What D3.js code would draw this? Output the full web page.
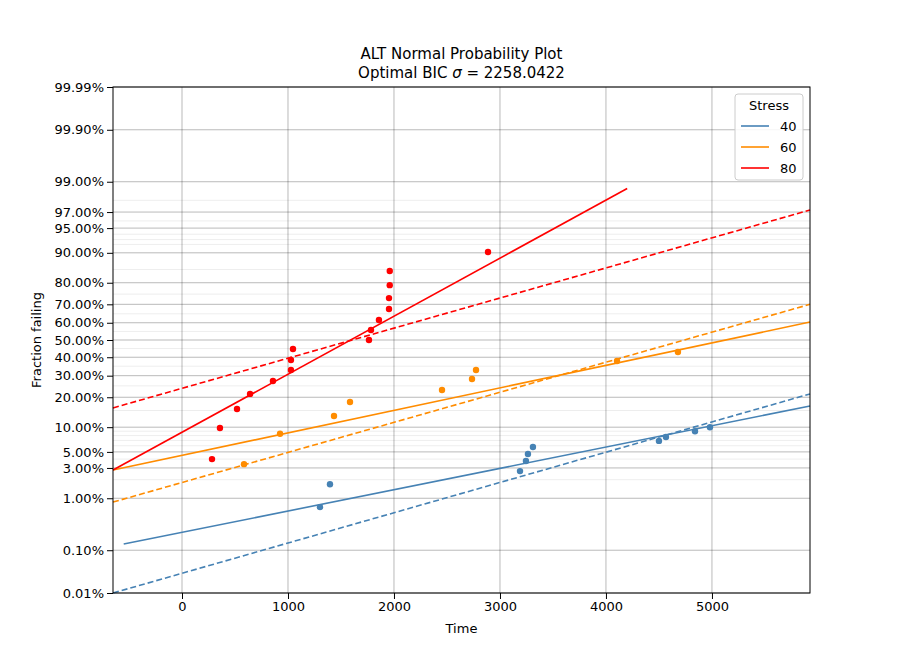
<!DOCTYPE html>
<html><head><meta charset="utf-8">
<script src="https://cdn.jsdelivr.net/npm/d3@7"></script>
<style>body{margin:0;background:#fff;font-family:"DejaVu Sans",sans-serif}</style>
</head><body><div id="main"></div>
<script>
var stresses = ["40", "60", "80"];
var colors = ["steelblue", "darkorange", "red"];
var blueT = [1302,1396,3189,3245,3264,3311,4500,4566,4840,4981];
var blueF = [0.007,0.017,0.027,0.0376,0.047,0.058,0.069,0.077,0.090,0.100];
var orangeT = [585,925,1434,1585,2453,2736,2774,4104,4679];
var orangeF = [0.034,0.084,0.132,0.181,0.231,0.283,0.330,0.379,0.430];
var redT = [283,358,519,642,858,1028,1028,1047,1764,1783,1858,1953,1953,1960,1960,2887];
var redF = [0.040,0.098,0.155,0.214,0.273,0.330,0.384,0.447,0.50,0.558,0.616,0.676,0.731,0.79,0.845,0.902];
// fitted lines: [t0, F0, t1, F1]
var solidLines = [[-550,0.00135,5925,0.166],[-651,0.028,5925,0.604],[-651,0.028,4200,0.987]];
var dashedLines = [[-651,0.0001,5925,0.214],[-651,0.0086,5925,0.70],[-651,0.159,5925,0.972]];
var yTicks = [0.0001,0.001,0.01,0.03,0.05,0.1,0.2,0.3,0.4,0.5,0.6,0.7,0.8,0.9,0.95,0.97,0.99,0.999,0.9999];
var yMinor = [0.02,0.04,0.06,0.07,0.08,0.09,0.15,0.25,0.35,0.45,0.55,0.65,0.75,0.85,0.92,0.93,0.94,0.96,0.98];
var xTicks = [0,1000,2000,3000,4000,5000];

var margin = {top: 87, left: 113, right: 90, bottom: 73};
var W = 900, H = 666, w = W-margin.left-margin.right, h = H-margin.top-margin.bottom;

// inverse normal CDF (Acklam)
function probit(p){
  var a=[-39.69683028665376,220.9460984245205,-275.9285104469687,138.357751867269,-30.66479806614716,2.506628277459239];
  var b=[-54.47609879822406,161.5858368580409,-155.6989798598866,66.80131188771972,-13.28068155288572];
  var c=[-0.007784894002430293,-0.3223964580411365,-2.400758277161838,-2.549732539343734,4.374664141464968,2.938163982698783];
  var d=[0.007784695709041462,0.3224671290700398,2.445134137142996,3.754408661907416];
  var q,r;
  if(p<0.02425){q=Math.sqrt(-2*Math.log(p));return (((((c[0]*q+c[1])*q+c[2])*q+c[3])*q+c[4])*q+c[5])/((((d[0]*q+d[1])*q+d[2])*q+d[3])*q+1);}
  if(p>1-0.02425){q=Math.sqrt(-2*Math.log(1-p));return -(((((c[0]*q+c[1])*q+c[2])*q+c[3])*q+c[4])*q+c[5])/((((d[0]*q+d[1])*q+d[2])*q+d[3])*q+1);}
  q=p-0.5;r=q*q;return (((((a[0]*r+a[1])*r+a[2])*r+a[3])*r+a[4])*r+a[5])*q/(((((b[0]*r+b[1])*r+b[2])*r+b[3])*r+b[4])*r+1);
}

var x = d3.scaleLinear().domain([-651,5925]).range([0,w]);
var zs = d3.scaleLinear().domain([probit(0.0001),probit(0.9999)]).range([h,0]);
var y = function(p){ return zs(probit(p)); };

var svg = d3.select("#main").append("svg").attr("width",W).attr("height",H);
var g = svg.append("g").attr("transform","translate("+margin.left+","+margin.top+")");

g.selectAll(".minor").data(yMinor).enter().append("line")
  .attr("x1",0).attr("x2",w).attr("y1",y).attr("y2",y)
  .attr("stroke","#000").attr("stroke-opacity",0.1).attr("stroke-width",0.7);
g.selectAll(".gy").data(yTicks).enter().append("line")
  .attr("x1",0).attr("x2",w).attr("y1",y).attr("y2",y)
  .attr("stroke","#000").attr("stroke-opacity",0.35).attr("stroke-width",0.8);
g.selectAll(".gx").data(xTicks).enter().append("line")
  .attr("y1",0).attr("y2",h).attr("x1",x).attr("x2",x)
  .attr("stroke","#000").attr("stroke-opacity",0.35).attr("stroke-width",0.8);

var series = [[blueT,blueF],[orangeT,orangeF],[redT,redF]];
function drawLine(l,col,dash){
  g.append("line").attr("x1",x(l[0])).attr("y1",y(l[1])).attr("x2",x(l[2])).attr("y2",y(l[3]))
   .attr("stroke",col).attr("stroke-width",1.6).attr("stroke-dasharray",dash?"6,3":null);
}
series.forEach(function(s,i){
  drawLine(solidLines[i],colors[i],false);
  drawLine(dashedLines[i],colors[i],true);
});
series.forEach(function(s,i){
  g.selectAll(".p"+i).data(s[0]).enter().append("circle")
   .attr("cx",function(d){return x(d);}).attr("cy",function(d,j){return y(s[1][j]);})
   .attr("r",3.2).attr("fill",colors[i]);
});

var xa = g.append("g").attr("transform","translate(0,"+h+")")
  .call(d3.axisBottom(x).tickValues(xTicks).tickFormat(d3.format("d")).tickSizeOuter(0));
var ya = g.append("g").call(d3.axisLeft(zs).tickValues(yTicks.map(probit))
  .tickFormat(function(z,i){return (yTicks[i]*100).toFixed(2)+"%";}).tickSizeOuter(0));
[xa,ya].forEach(function(a){a.selectAll("text").style("font-size","13px").style("font-family","DejaVu Sans").attr("fill","#000");
  a.selectAll("line").attr("stroke","#000");a.select(".domain").remove();});
g.append("rect").attr("width",w).attr("height",h).attr("fill","none").attr("stroke","#000").attr("stroke-width",1);

svg.append("text").attr("x",margin.left+w/2).attr("y",59).attr("text-anchor","middle").style("font-size","15px").text("ALT Normal Probability Plot");
var t2 = svg.append("text").attr("x",margin.left+w/2).attr("y",78).attr("text-anchor","middle").style("font-size","15px");
t2.append("tspan").text("Optimal BIC ");
t2.append("tspan").style("font-style","italic").text("σ");
t2.append("tspan").text(" = 2258.0422");
svg.append("text").attr("x",margin.left+w/2).attr("y",633).attr("text-anchor","middle").style("font-size","13px").text("Time");
svg.append("text").attr("transform","translate(41,"+(margin.top+h/2)+") rotate(-90)").attr("text-anchor","middle").style("font-size","13px").text("Fraction failing");

var lg = svg.append("g").attr("transform","translate(735,94)");
lg.append("rect").attr("width",68).attr("height",86).attr("rx",3).attr("fill","#fff").attr("fill-opacity",0.85).attr("stroke","#ccc");
lg.append("text").attr("x",34).attr("y",16).attr("text-anchor","middle").style("font-size","13px").text("Stress");
stresses.forEach(function(s,i){
  var yy = 32+i*21;
  lg.append("line").attr("x1",6).attr("x2",34).attr("y1",yy).attr("y2",yy).attr("stroke",colors[i]).attr("stroke-width",1.6);
  lg.append("text").attr("x",45).attr("y",yy+5).style("font-size","13px").text(s);
});
</script></body></html>
